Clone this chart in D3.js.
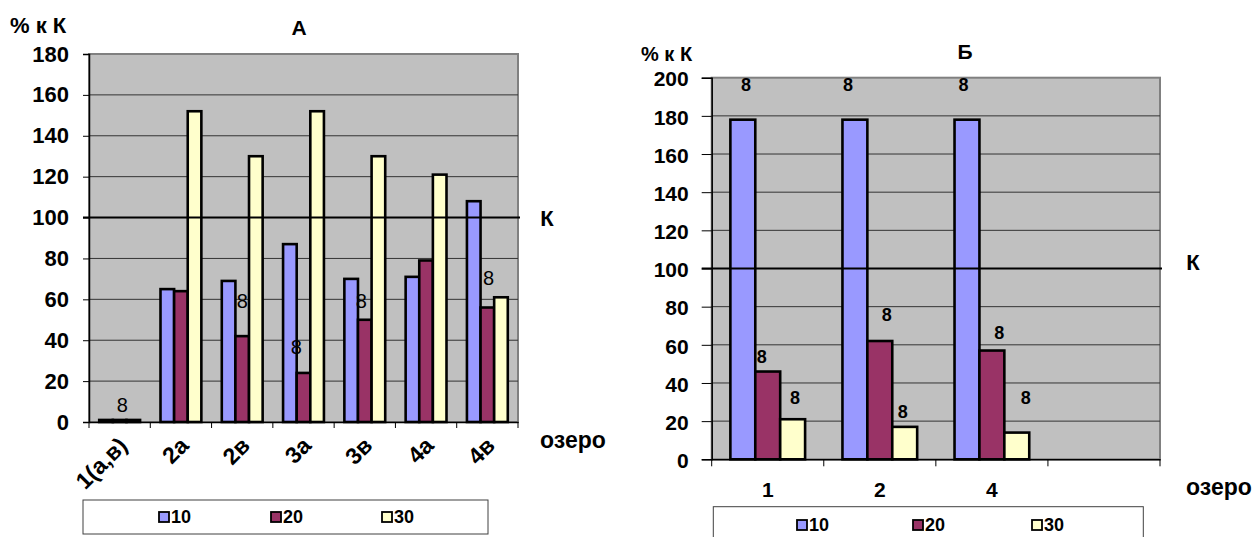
<!DOCTYPE html>
<html><head><meta charset="utf-8">
<script src="https://cdn.jsdelivr.net/npm/d3@7/dist/d3.min.js"></script>
<style>
html,body{margin:0;padding:0;background:#fff;}
svg text{font-family:"Liberation Sans",Arial,sans-serif;}
</style></head>
<body><svg id="c" width="1256" height="537"></svg>
<script>
// ---------- Data ----------
const seriesNames = ["10", "20", "30"];
const colors = ["#9999FF", "#993366", "#FFFFCC"];

const catsA = ["1(а,в)", "2а", "2в", "3а", "3в", "4а", "4в"];
const s10A = [1, 65, 69, 87, 70, 71, 108];
const s20A = [1, 64, 42, 24, 50, 79, 56];
const s30A = [1, 152, 130, 152, 130, 121, 61];
const ticksA = [0, 20, 40, 60, 80, 100, 120, 140, 160, 180];
// significance marks: category, slot (series position), value-height of label
const marksA = [
  {cat: "1(а,в)", slot: 1.19, v: 8.3},
  {cat: "2в", slot: 1.0, v: 59},
  {cat: "3а", slot: 0.47, v: 36.7},
  {cat: "3в", slot: 0.74, v: 59.3},
  {cat: "4в", slot: 1.09, v: 70.3}
];

const catsB = ["1", "2", "4", ""];
const s10B = [178, 178, 178, null];
const s20B = [46, 62, 57, null];
const s30B = [21, 17, 14, null];
const ticksB = [0, 20, 40, 60, 80, 100, 120, 140, 160, 180, 200];
const marksB = [
  {cat: "1", slot: 0.13, v: 196}, {cat: "2", slot: -0.28, v: 196}, {cat: "4", slot: -0.14, v: 196},
  {cat: "1", slot: 0.76, v: 53.8}, {cat: "2", slot: 1.28, v: 75.6}, {cat: "4", slot: 1.3, v: 66},
  {cat: "1", slot: 2.09, v: 32.3}, {cat: "2", slot: 1.92, v: 25}, {cat: "4", slot: 2.36, v: 32.3}
];
const markText = "8";
const controlValue = 100;

const svg = d3.select("#c");

function drawChart(o) {
  const g = svg.append("g");
  const x0 = d3.scaleBand().domain(o.cats).range([o.left, o.right]).paddingInner(0).paddingOuter(0);
  const x1 = d3.scaleBand().domain([0, 1, 2]).range([0, x0.bandwidth()]).paddingInner(0).paddingOuter(0.75);
  const y = d3.scaleLinear().domain([0, o.ymax]).range([o.bottom, o.top]);

  // plot background
  g.append("rect").attr("x", o.left).attr("y", o.top)
    .attr("width", o.right - o.left).attr("height", o.bottom - o.top)
    .attr("fill", "#C0C0C0").attr("stroke", "#808080").attr("stroke-width", 2);

  // gridlines
  g.selectAll(".grid").data(o.ticks.filter(t => t > 0 && t < o.ymax)).enter().append("line")
    .attr("x1", o.left).attr("x2", o.right).attr("y1", d => y(d)).attr("y2", d => y(d))
    .attr("stroke", "#333").attr("stroke-width", 1);

  // y axis
  const ya = g.append("g").attr("transform", `translate(${o.left},0)`)
    .call(d3.axisLeft(y).tickValues(o.ticks).tickSize(o.tickLen).tickPadding(o.tickPad).tickFormat(d3.format("d")));
  ya.select(".domain").attr("stroke", "#000").attr("stroke-width", 1.5);
  ya.selectAll(".tick line").attr("stroke", "#000");
  ya.selectAll("text").attr("font-size", o.yFont).attr("font-weight", "bold").attr("fill", "#000")
    .attr("transform", `translate(0,${o.yLabDy})`);

  // x axis
  const xa = g.append("g").attr("transform", `translate(0,${o.bottom})`)
    .call(d3.axisBottom(x0).tickSize(0).tickFormat(""));
  xa.select(".domain").attr("stroke", "#000").attr("stroke-width", 1.5);
  const edges = o.cats.map(c => x0(c)).concat([o.right]);
  g.selectAll(".xt").data(edges).enter().append("line")
    .attr("x1", d => d).attr("x2", d => d).attr("y1", o.bottom).attr("y2", o.bottom + o.xTickLen)
    .attr("stroke", "#000").attr("stroke-width", 1);

  // bars
  const series = [o.s10, o.s20, o.s30];
  series.forEach((vals, si) => {
    g.selectAll(".b" + si).data(o.cats.map((c, i) => ({c, v: vals[i]})).filter(d => d.v != null))
      .enter().append("rect")
      .attr("x", d => x0(d.c) + x1(si))
      .attr("width", x1.bandwidth())
      .attr("y", d => y(d.v))
      .attr("height", d => y(0) - y(d.v))
      .attr("fill", colors[si]).attr("stroke", "#000").attr("stroke-width", 2.6);
  });

  // control line
  g.append("line").attr("x1", o.left - o.tickLen).attr("x2", o.right + 2)
    .attr("y1", y(controlValue)).attr("y2", y(controlValue))
    .attr("stroke", "#000").attr("stroke-width", 2);
  g.append("text").attr("x", o.kx).attr("y", y(controlValue) + o.kdy)
    .attr("font-size", 22).attr("font-weight", "bold").attr("text-anchor", "middle")
    .attr("dominant-baseline", "central").text("К");

  // marks
  g.selectAll(".mk").data(o.marks).enter().append("text")
    .attr("x", d => x0(d.cat) + x1.step() * (0.75 + d.slot + 0.5))
    .attr("y", d => y(d.v))
    .attr("text-anchor", "middle").attr("dominant-baseline", "central")
    .attr("font-size", o.markFont).attr("font-weight", o.markWeight).text(markText);

  // category labels
  if (o.rotate) {
    g.selectAll(".cl").data(o.cats).enter().append("text")
      .attr("transform", c => `translate(${x0(c) + x0.bandwidth() / 2 + o.clDx},${o.bottom + o.clDy}) rotate(-45)`)
      .attr("text-anchor", "end").attr("font-size", o.xFont).attr("font-weight", "bold").text(c => c);
  } else {
    g.selectAll(".cl").data(o.cats).enter().append("text")
      .attr("x", c => x0(c) + x0.bandwidth() / 2).attr("y", o.bottom + o.clDy)
      .attr("text-anchor", "middle").attr("dominant-baseline", "central")
      .attr("font-size", o.xFont).attr("font-weight", "bold").text(c => c);
  }

  // texts
  g.append("text").attr("x", o.ylabX).attr("y", o.ylabY).attr("font-size", o.ylabFont).attr("font-weight", "bold")
    .attr("dominant-baseline", "central").text("% к К");
  g.append("text").attr("x", o.titleX).attr("y", o.titleY).attr("font-size", 21).attr("font-weight", "bold")
    .attr("text-anchor", "middle").attr("dominant-baseline", "central").text(o.title);
  g.append("text").attr("x", o.ozX).attr("y", o.ozY).attr("font-size", 23).attr("font-weight", "bold")
    .attr("dominant-baseline", "central").text("озеро");

  // legend
  g.append("rect").attr("x", o.lg.x).attr("y", o.lg.y).attr("width", o.lg.w).attr("height", o.lg.h)
    .attr("fill", "#fff").attr("stroke", "#404040").attr("stroke-width", 1);
  seriesNames.forEach((s, i) => {
    const lx = o.lg.items[i];
    g.append("rect").attr("x", lx).attr("y", o.lg.cy - 5).attr("width", 10).attr("height", 10)
      .attr("fill", colors[i]).attr("stroke", "#000").attr("stroke-width", 1.8);
    g.append("text").attr("x", lx + 12).attr("y", o.lg.cy).attr("dominant-baseline", "central")
      .attr("font-size", 18).attr("font-weight", "bold").text(s);
  });
}

drawChart({
  cats: catsA, s10: s10A, s20: s20A, s30: s30A, ticks: ticksA, marks: marksA, ymax: 180,
  left: 89, right: 518, top: 54, bottom: 422, tickLen: 6, tickPad: 14, xTickLen: 6, yLabDy: 0,
  yFont: 22, xFont: 23, markFont: 20, markWeight: "normal",
  rotate: true, clDx: 9, clDy: 25,
  kx: 547, kdy: 1,
  ylabX: 10, ylabY: 25, ylabFont: 22, title: "А", titleX: 299, titleY: 27, ozX: 540, ozY: 440,
  lg: {x: 83, y: 500, w: 405, h: 34, cy: 517, items: [159, 271, 382]}
});

drawChart({
  cats: catsB, s10: s10B, s20: s20B, s30: s30B, ticks: ticksB, marks: marksB, ymax: 200,
  left: 711.7, right: 1160, top: 77.7, bottom: 459.3, tickLen: 10, tickPad: 13, xTickLen: 7, yLabDy: 1.5,
  yFont: 21, xFont: 21, markFont: 18, markWeight: "bold",
  rotate: false, clDx: 0, clDy: 30,
  kx: 1193, kdy: -6,
  ylabX: 641, ylabY: 54, ylabFont: 20, title: "Б", titleX: 965, titleY: 51, ozX: 1186, ozY: 487,
  lg: {x: 713.3, y: 506.7, w: 430, h: 40, cy: 525, items: [797, 913, 1032]}
});
</script></body></html>
